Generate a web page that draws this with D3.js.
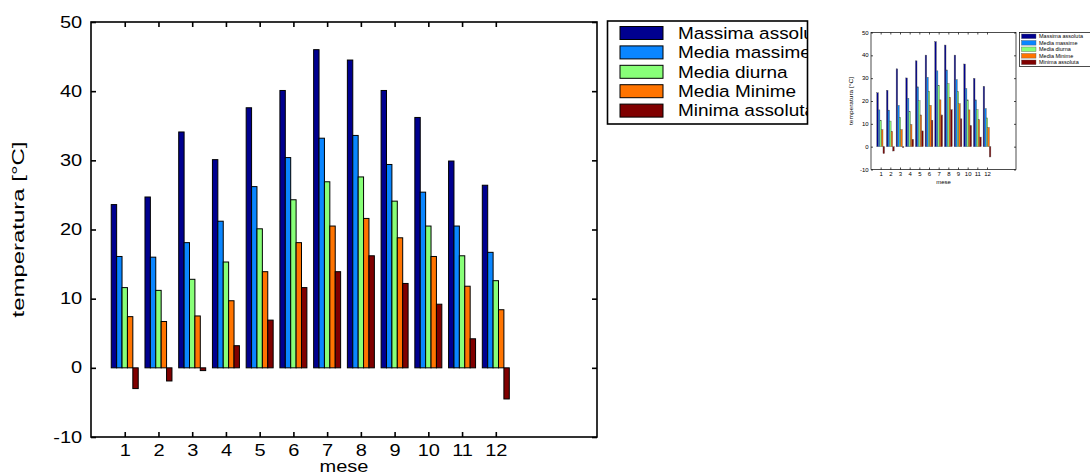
<!DOCTYPE html>
<html>
<head>
<meta charset="utf-8">
<script src="https://cdn.jsdelivr.net/npm/d3@7"></script>
<style>
  body { margin: 0; background: #fff; }
  svg { display: block; font-family: "Liberation Sans", Arial, Helvetica, sans-serif; }
</style>
</head>
<body>
<script>
// Data (temperature per month, °C)
var months = [1, 2, 3, 4, 5, 6, 7, 8, 9, 10, 11, 12];
var seriesNames = ["Massima assoluta", "Media massime", "Media diurna", "Media Minime", "Minima assoluta"];
var massimaAssoluta = [23.6, 24.7, 34.1, 30.1, 37.6, 40.1, 46.0, 44.5, 40.1, 36.2, 29.9, 26.4];
var mediaMassime    = [16.1, 16.0, 18.1, 21.2, 26.2, 30.4, 33.2, 33.6, 29.4, 25.4, 20.5, 16.7];
var mediaDiurna     = [11.6, 11.2, 12.8, 15.3, 20.1, 24.3, 26.9, 27.6, 24.1, 20.5, 16.2, 12.6];
var mediaMinime     = [7.4, 6.7, 7.5, 9.7, 13.9, 18.1, 20.5, 21.6, 18.8, 16.1, 11.8, 8.4];
var minimaAssoluta  = [-3.0, -1.9, -0.4, 3.2, 6.9, 11.6, 13.9, 16.2, 12.2, 9.2, 4.2, -4.5];
var yTicks = [-10, 0, 10, 20, 30, 40, 50];
var seriesColors = ["#00008f", "#0a86ff", "#88ff78", "#ff7400", "#800000"];

var allSeries = [massimaAssoluta, mediaMassime, mediaDiurna, mediaMinime, minimaAssoluta];

var svgWidth = 1090;
var svgHeight = 475;

var svg = d3.select("body")
  .append("svg")
  .attr("width", svgWidth)
  .attr("height", svgHeight);

// flat rows for the bars
var rows = [];
months.forEach(function (m, i) {
  seriesNames.forEach(function (s, j) {
    rows.push({ month: m, series: s, value: allSeries[j][i], color: seriesColors[j] });
  });
});

function drawChart(cfg) {
  var g = svg.append("g");

  var x = d3.scaleLinear().domain([0, 15]).range([cfg.left, cfg.right]);
  var y = d3.scaleLinear().domain([-10, 50]).range([cfg.bottom, cfg.top]);
  var groupW = x(0.8) - x(0);
  var xSub = d3.scaleBand().domain(seriesNames).range([0, groupW]);

  // bars
  g.append("g").selectAll("rect")
    .data(rows)
    .enter()
    .append("rect")
    .attr("x", d => x(d.month) - groupW / 2 + xSub(d.series))
    .attr("width", xSub.bandwidth())
    .attr("y", d => y(Math.max(0, d.value)))
    .attr("height", d => Math.abs(y(d.value) - y(0)))
    .attr("fill", d => d.color)
    .attr("stroke", cfg.barStroke)
    .attr("stroke-width", cfg.barStrokeW);

  // axes (inward ticks), plain hyphen for negatives
  var plain = d => String(d);
  var bottomAxis = d3.axisBottom(x).tickValues(months).tickSize(-cfg.tick).tickSizeOuter(0).tickPadding(cfg.xPad).tickFormat(plain);
  var topAxis = d3.axisTop(x).tickValues(months).tickSize(-cfg.tick).tickSizeOuter(0).tickFormat("");
  var leftAxis = d3.axisLeft(y).tickValues(yTicks).tickSize(-cfg.tick).tickSizeOuter(0).tickPadding(cfg.yPad).tickFormat(plain);
  var rightAxis = d3.axisRight(y).tickValues(yTicks).tickSize(-cfg.tick).tickSizeOuter(0).tickFormat("");

  var axes = [
    g.append("g").attr("transform", `translate(0, ${cfg.bottom})`).call(bottomAxis),
    g.append("g").attr("transform", `translate(0, ${cfg.top})`).call(topAxis),
    g.append("g").attr("transform", `translate(${cfg.left}, 0)`).call(leftAxis),
    g.append("g").attr("transform", `translate(${cfg.right}, 0)`).call(rightAxis)
  ];
  axes.forEach(function (a) {
    a.select(".domain").remove();
    a.selectAll("line").attr("stroke", "#000").attr("stroke-width", cfg.lineW);
    a.selectAll("text")
      .attr("fill", "#000")
      .attr("font-size", cfg.font + "px")
      .attr("font-family", null)
      .attr("transform", `scale(${cfg.sx},1)`);
  });

  // box
  g.append("rect")
    .attr("x", cfg.left).attr("y", cfg.top)
    .attr("width", cfg.right - cfg.left).attr("height", cfg.bottom - cfg.top)
    .attr("fill", "none").attr("stroke", "#000").attr("stroke-width", cfg.lineW);

  // x label
  g.append("text")
    .attr("transform", `translate(${(cfg.left + cfg.right) / 2}, ${cfg.xLabelY}) scale(${cfg.sx},1)`)
    .attr("text-anchor", "middle")
    .attr("font-size", cfg.font + "px")
    .text("mese");

  // y label
  g.append("text")
    .attr("transform", `translate(${cfg.yLabelX}, ${(cfg.top + cfg.bottom) / 2}) rotate(-90)`)
    .attr("text-anchor", "middle")
    .attr("font-size", cfg.font + "px")
    .attr("textLength", cfg.yLabelLen)
    .attr("lengthAdjust", "spacingAndGlyphs")
    .text("temperatura [°C]");

  // legend
  var L = cfg.legend;
  var clipId = "clip" + cfg.id;
  svg.append("clipPath").attr("id", clipId)
    .append("rect").attr("x", L.x).attr("y", L.y).attr("width", L.w).attr("height", L.h);
  var lg = g.append("g");
  lg.append("rect")
    .attr("x", L.x).attr("y", L.y).attr("width", L.w).attr("height", L.h)
    .attr("fill", "#fff");
  var items = lg.append("g").attr("clip-path", `url(#${clipId})`)
    .selectAll("g")
    .data(seriesNames)
    .enter()
    .append("g");
  items.append("rect")
    .attr("x", L.swX)
    .attr("y", (d, i) => L.rowY + i * L.step)
    .attr("width", L.swW)
    .attr("height", L.swH)
    .attr("fill", (d, i) => seriesColors[i])
    .attr("stroke", cfg.barStroke)
    .attr("stroke-width", cfg.barStrokeW);
  items.append("text")
    .attr("transform", (d, i) => `translate(${L.textX}, ${L.rowY + i * L.step + L.swH / 2}) scale(${L.sx},1)`)
    .attr("dy", "0.35em")
    .attr("font-size", L.font + "px")
    .text(d => d);
  lg.append("rect")
    .attr("x", L.x).attr("y", L.y).attr("width", L.w).attr("height", L.h)
    .attr("fill", "none").attr("stroke", "#000").attr("stroke-width", cfg.lineW);
}

// main chart
drawChart({
  id: "main",
  left: 91, right: 597, top: 22, bottom: 437,
  tick: 5, lineW: 1.6, font: 16, sx: 1.25,
  xPad: 8, yPad: 7,
  barStroke: "#000", barStrokeW: 1,
  xLabelY: 472, yLabelX: 24, yLabelLen: 176,
  legend: { x: 607.5, y: 21, w: 200, h: 103, swX: 620, swW: 43, swH: 13, rowY: 26.5, step: 19.4, textX: 678, font: 16.5, sx: 1.15 }
});

// small copy at the top right
drawChart({
  id: "small",
  left: 871, right: 1016, top: 32.5, bottom: 169.5,
  tick: 2, lineW: 0.7, font: 5, sx: 1.2,
  xPad: 3, yPad: 2,
  barStroke: "#555", barStrokeW: 0.4,
  xLabelY: 184, yLabelX: 853, yLabelLen: 48,
  legend: { x: 1019.5, y: 32.5, w: 80, h: 34, swX: 1021.5, swW: 14.5, swH: 4.6, rowY: 34, step: 6.5, textX: 1039, font: 5, sx: 1.1 }
});
</script>
</body>
</html>
